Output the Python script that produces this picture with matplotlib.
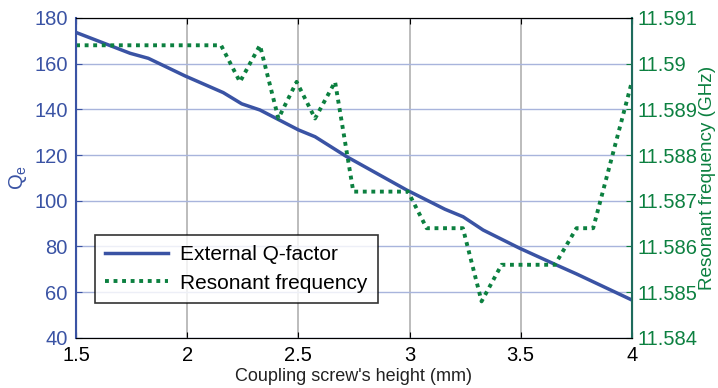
import matplotlib.pyplot as plt

plt.rcParams['font.family'] = ['Liberation Sans', 'DejaVu Sans']

# external Q-factor vs screw height
h_q = [1.5, 1.743, 1.825, 1.99, 2.162, 2.245, 2.327, 2.5, 2.575, 2.717,
       2.987, 3.159, 3.241, 3.331, 3.496, 3.661, 3.751, 4.0]
q_ext = [173.6, 164.5, 162.3, 154.6, 147.3, 142.4, 139.7, 131.0, 128.0, 119.3,
         104.7, 96.3, 93.0, 87.2, 79.2, 71.9, 68.0, 56.6]

# resonant frequency (GHz)
h_f = [1.5, 2.152, 2.237, 2.327, 2.41, 2.492, 2.575, 2.665, 2.747, 2.993,
       3.077, 3.24, 3.324, 3.414, 3.654, 3.751, 3.826, 4.0]
freq = [11.5904, 11.5904, 11.5896, 11.5904, 11.5888, 11.5896, 11.5888, 11.5896,
        11.5872, 11.5872, 11.5864, 11.5864, 11.5848, 11.5856, 11.5856, 11.5864,
        11.5864, 11.5896]

blue = '#3a53a4'
green = '#0c8040'

fig, ax = plt.subplots(figsize=(7.18, 3.88), dpi=100)
fig.subplots_adjust(left=0.106, right=0.880, bottom=0.129, top=0.954)
ax2 = ax.twinx()

l1, = ax.plot(h_q, q_ext, color=blue, lw=2.5, label='External Q-factor')
l2, = ax2.plot(h_f, freq, color=green, lw=2.8, ls=(0, (1, 1.2)), label='Resonant frequency')

ax.set_xlim(1.5, 4)
ax.set_ylim(40, 180)
ax.set_yticks(range(40, 181, 20))
ax.set_xticks([1.5, 2, 2.5, 3, 3.5, 4])
ax.set_xticklabels(['1.5', '2', '2.5', '3', '3.5', '4'])
ax2.set_ylim(11.584, 11.591)
ax2.set_yticks([11.584, 11.585, 11.586, 11.587, 11.588, 11.589, 11.59, 11.591])
ax2.set_yticklabels(['11.584', '11.585', '11.586', '11.587', '11.588', '11.589', '11.59', '11.591'])

ax.yaxis.grid(True, color='#a8b4dc', lw=1)
ax.xaxis.grid(True, color='#b0b0b0', lw=1.2)
ax.set_axisbelow(True)

ax.tick_params(axis='x', direction='in', length=4, labelsize=14.5, top=True, pad=6)
ax.tick_params(axis='y', direction='in', length=4, colors=blue, labelsize=14.5, pad=6)
ax2.tick_params(axis='y', direction='in', length=4, colors=green, labelsize=14.5, pad=4)

ax.spines['left'].set_color(blue)
ax2.spines['left'].set_color(blue)
ax2.spines['right'].set_color('#1e6b5c')
ax.spines['right'].set_color('#1e6b5c')
for s in ['left', 'right']:
    ax2.spines[s].set_linewidth(1.5)

ax.set_xlabel("Coupling screw's height (mm)", fontsize=13, color='#222222')
ax.xaxis.set_label_coords(0.5, -0.095)
ax.set_ylabel(r'Q$_\mathregular{e}$', color=blue, fontsize=14.5)
ax.yaxis.set_label_coords(-0.085, 0.5)
ax2.set_ylabel('Resonant frequency (GHz)', color=green, fontsize=13.6)
ax2.yaxis.set_label_coords(1.12, 0.5)

leg = ax2.legend(handles=[l1, l2], loc='lower left', bbox_to_anchor=(0.034, 0.109),
                 borderaxespad=0, fontsize=15, frameon=True, fancybox=False,
                 edgecolor='black', handlelength=3.0, borderpad=0.5,
                 labelspacing=0.45, handletextpad=0.6)
leg.get_frame().set_linewidth(1.2)

fig.savefig('out.png', dpi=100)
